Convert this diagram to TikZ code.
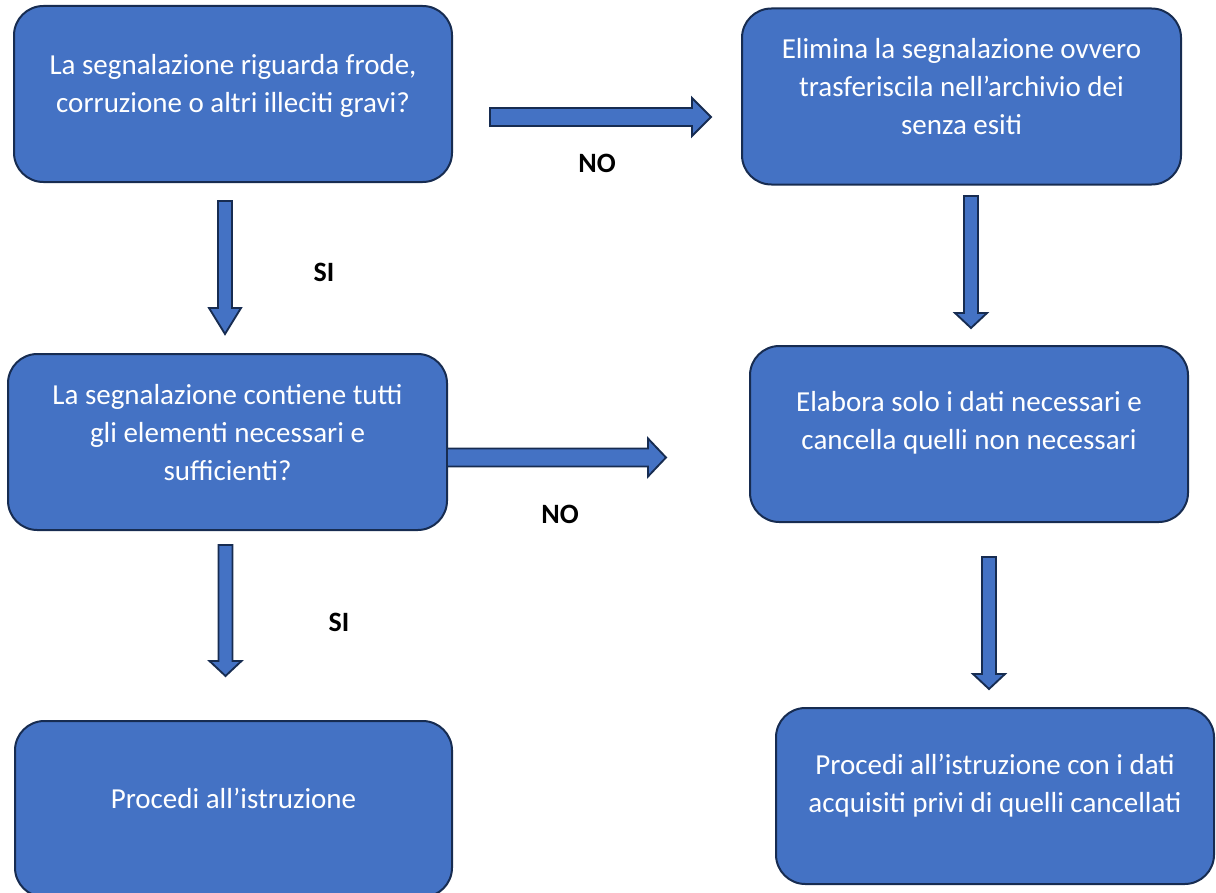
\documentclass[tikz,border=0pt]{standalone}
\usepackage{fontspec}
\setmainfont{Carlito}
\usetikzlibrary{calc}
\definecolor{boxfill}{HTML}{4472C4}
\definecolor{boxline}{HTML}{172C51}
\tikzset{
  box/.style={draw=boxline, fill=boxfill, line width=1.5pt, rounded corners=22pt,
    minimum width=#1*0.75pt, minimum height=176*0.75pt, inner sep=0pt},
  box/.default=438,
  boxtext/.style={text=white, align=center, font=\fontsize{21.75pt}{28.5pt}\selectfont, inner sep=0pt},
  lbl/.style={text=black, font=\fontsize{21pt}{25pt}\selectfont\bfseries, inner sep=0pt},
  barrow/.style={draw=boxline, fill=boxfill, line width=1.4pt, line join=miter}
}
\newcommand\harr[5]{% start, tip, head length, shaft half, head half
  \draw[barrow] ($(#1)+(0,-#4)$) -- ($(#2)+(-#3,-#4)$) -- ($(#2)+(-#3,-#5)$) -- (#2)
    -- ($(#2)+(-#3,#5)$) -- ($(#2)+(-#3,#4)$) -- ($(#1)+(0,#4)$) -- cycle;}
\newcommand\varr[5]{%
  \draw[barrow] ($(#1)+(-#4,0)$) -- ($(#2)+(-#4,-#3)$) -- ($(#2)+(-#5,-#3)$) -- (#2)
    -- ($(#2)+(#5,-#3)$) -- ($(#2)+(#4,-#3)$) -- ($(#1)+(#4,0)$) -- cycle;}
\begin{document}
\begin{tikzpicture}[x=0.75pt, y=-0.75pt]
\useasboundingbox (0,0) rectangle (1216,892);

% boxes
\node[box] (A) at (233,94) {};
\node[box=439] (B) at (961.5,96.5) {};
\node[box=439] (C) at (227.5,442) {};
\node[box] (D) at (969,434) {};
\node[box=437] (E) at (233.5,809) {};
\node[box] (F) at (995,796) {};

% texts
\node[boxtext] (At) at (233,86) {La segnalazione riguarda frode,\\corruzione o altri illeciti gravi?};
\node[boxtext] (Bt) at (961.5,87) {Elimina la segnalazione ovvero\\trasferiscila nell’archivio dei\\senza esiti};
\node[boxtext] (Ct) at (227.5,432.5) {La segnalazione contiene tutti\\gli elementi necessari e\\sufficienti?};
\node[boxtext] (Dt) at (969,422.5) {Elabora solo i dati necessari e\\cancella quelli non necessari};
\node[boxtext] (Et) at (233.5,798) {Procedi all’istruzione};
\node[boxtext] (Ft) at (995,786) {Procedi all’istruzione con i dati\\acquisiti privi di quelli cancellati};

% arrows
\coordinate (a1s) at (490,117);  \coordinate (a1t) at (711,117);
\harr{a1s}{a1t}{19}{9}{19}
\coordinate (a2s) at (447,457.5); \coordinate (a2t) at (666,457.5);
\harr{a2s}{a2t}{18}{9}{19}
\coordinate (v1s) at (225,201);  \coordinate (v1t) at (225,334);
\varr{v1s}{v1t}{26}{7}{16}
\coordinate (v2s) at (225.5,545); \coordinate (v2t) at (225.5,676);
\varr{v2s}{v2t}{15}{7}{16}
\coordinate (v3s) at (971,196);  \coordinate (v3t) at (971,328);
\varr{v3s}{v3t}{15}{7}{16}
\coordinate (v4s) at (989,557);  \coordinate (v4t) at (989,689);
\varr{v4s}{v4t}{15}{7}{16}

% labels
\node[lbl] (no1) at (597,163) {NO};
\node[lbl] (no2) at (560,514) {NO};
\node[lbl] (si1) at (324,272) {SI};
\node[lbl] (si2) at (339,622) {SI};
\end{tikzpicture}
\end{document}
